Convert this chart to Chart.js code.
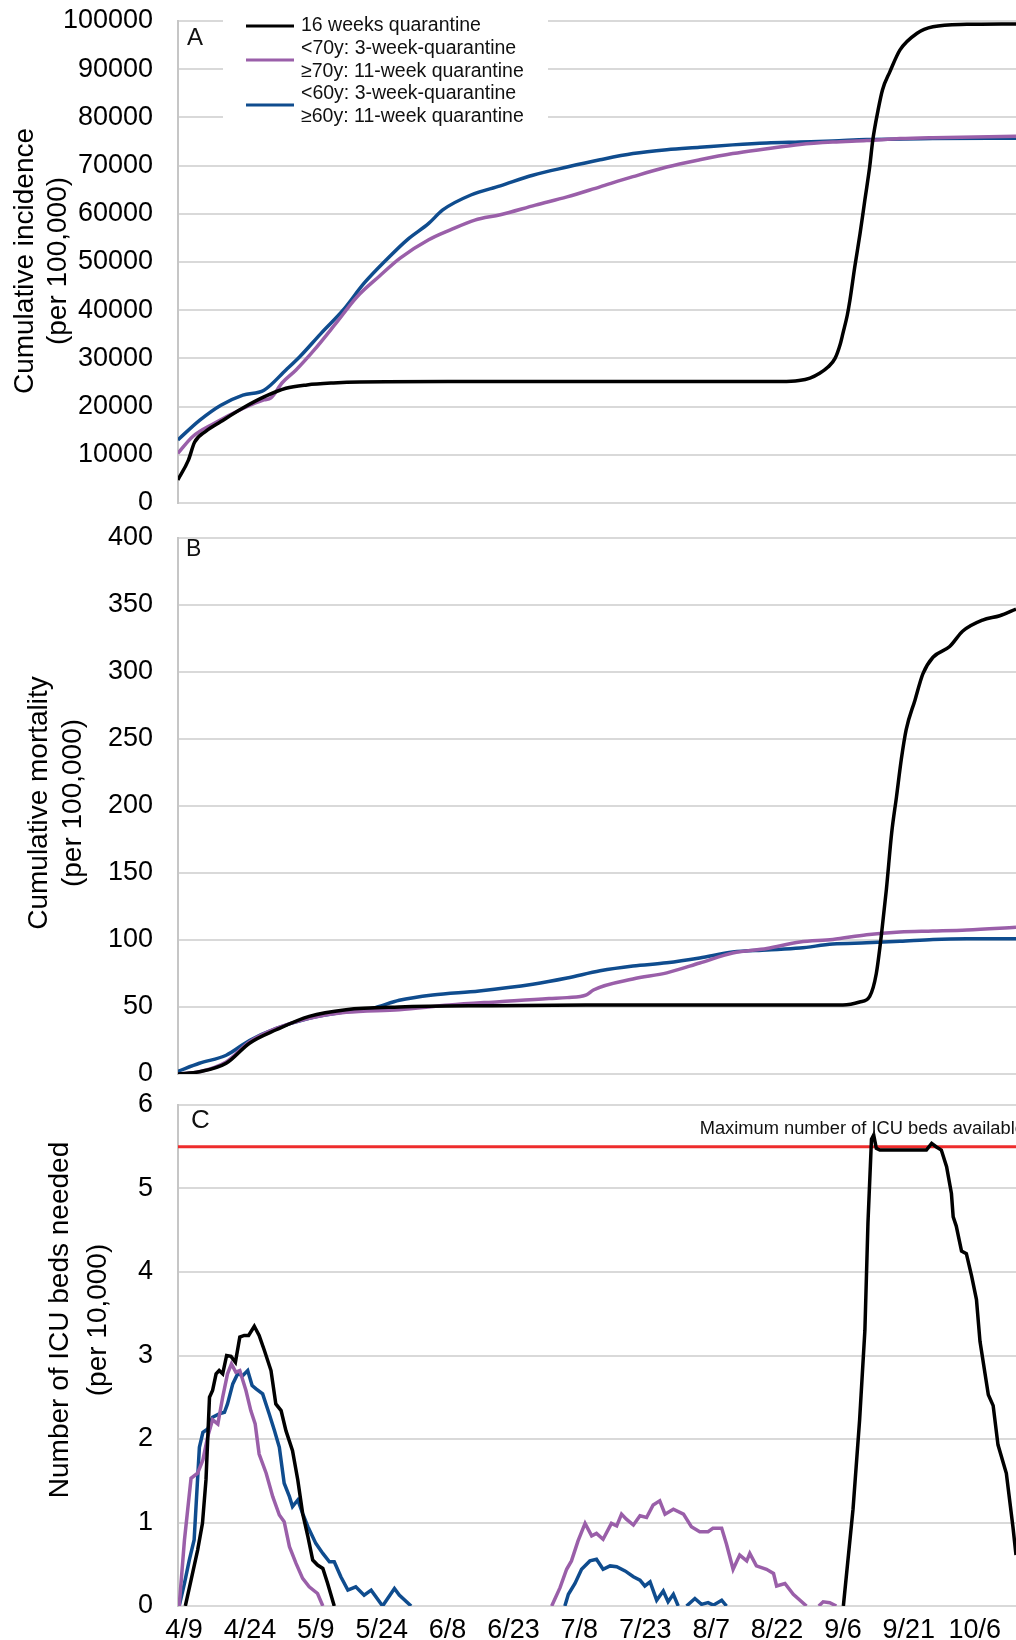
<!DOCTYPE html>
<html>
<head>
<meta charset="utf-8">
<script src="https://cdn.jsdelivr.net/npm/chart.js@4.4.1/dist/chart.umd.min.js"></script>
<style>
  html, body { margin: 0; padding: 0; background: #fff; }
  #page { position: relative; width: 1016px; height: 1640px; overflow: hidden; background: #fff; }
  canvas { position: absolute; left: 0; }
  #chartA { top: 0; }
  #chartB { top: 515px; }
  #chartC { top: 1080px; }
</style>
</head>
<body>
<div id="page">
  <canvas id="chartA" width="1016" height="520"></canvas>
  <canvas id="chartB" width="1016" height="580"></canvas>
  <canvas id="chartC" width="1016" height="560"></canvas>
</div>
<script>
// x values are days counted from 4/9
var dateTicks = ['4/9', '4/24', '5/9', '5/24', '6/8', '6/23', '7/8', '7/23', '8/7', '8/22', '9/6', '9/21', '10/6'];
var seriesNames = [
    ['16 weeks quarantine'],
    ['<70y: 3-week-quarantine', '\u226570y: 11-week quarantine'],
    ['<60y: 3-week-quarantine', '\u226560y: 11-week quarantine']
];
var icuCapacity = 5.5;
var icuCapacityLabel = 'Maximum number of ICU beds available';

// A: cumulative incidence (per 100,000)
var incidence16w = [[-1.4, 4800], [1, 8900], [2.4, 12600], [5, 14900], [8.4, 16900], [13.4, 19700], [18.2, 22000],
    [23.2, 23800], [28, 24500], [34, 24900], [40, 25100], [60, 25200], [100, 25200], [136, 25200], [140, 25400],
    [142.5, 25900], [144.7, 26900], [146.6, 28200], [148.2, 30000], [149.4, 33000], [150, 35200], [151, 39000],
    [151.6, 42100], [152.7, 49000], [153.9, 55900], [155, 62900], [156.1, 69800], [156.8, 75300], [158, 81500],
    [159, 85700], [160.7, 89500], [163, 94000], [166.8, 97400], [170.5, 98800], [178.2, 99300], [189.4, 99400]];
var incidence70 = [[-1.4, 10300], [2, 13800], [6.8, 16500], [13.4, 19600], [18.2, 21400], [19.8, 21800], [22.3, 24900],
    [25.5, 27600], [29.6, 31700], [34.6, 37300], [39.4, 42800], [44.4, 47000], [49.2, 50800], [55.7, 54600],
    [60.5, 56600], [66.2, 58700], [72, 59800], [80, 61800], [87.2, 63500], [94.7, 65600], [102.2, 67700],
    [109.9, 69700], [117.4, 71200], [124.9, 72500], [132.7, 73500], [140.2, 74400], [147.7, 74900], [155.4, 75200],
    [163, 75600], [170.5, 75800], [189.4, 76100]];
var incidence60 = [[-1.4, 13100], [3.6, 17200], [8.4, 20300], [13.4, 22400], [18.2, 23400], [23.2, 27600], [26.4, 30400],
    [31.2, 35200], [36.2, 40000], [41, 45600], [46, 50400], [50.8, 54600], [55.7, 58000], [58.9, 60800], [65.3, 63900],
    [72, 65800], [79.4, 68000], [87.2, 69700], [94.7, 71200], [102.2, 72500], [109.9, 73300], [117.4, 73800],
    [124.9, 74300], [132.7, 74700], [140.2, 74900], [147.7, 75100], [155.4, 75400], [170.5, 75600], [189.4, 75700]];

// B: cumulative mortality (per 100,000)
var mortality16w = [[-1.4, 0], [3.5, 1.7], [9.6, 8], [14.9, 23], [21, 33], [28.5, 43], [36.9, 48], [49, 50], [70, 51],
    [91.5, 51.5], [120, 51.5], [150, 51.5], [153.8, 53.7], [156.1, 58], [157.6, 75], [158.8, 105], [159.9, 138],
    [161.1, 180], [162.2, 207], [163.3, 235], [164.4, 257], [166.4, 279], [168.2, 298.6], [170.5, 311], [174.3, 319],
    [177.3, 330.6], [181.8, 338.8], [185.7, 342], [189.4, 347]];
var mortality70 = [[-1.4, 0], [3.5, 1.7], [9.6, 9], [14.9, 24], [21, 34], [28.5, 41.5], [36.9, 46], [49, 48], [60.4, 51.5],
    [71.8, 54], [83.1, 56.4], [87.2, 57], [91.6, 59], [93.2, 62.7], [102.2, 70.9], [109.9, 75.5], [117.4, 82.8],
    [124.9, 90.3], [132.7, 93.7], [140.2, 98.5], [147.7, 100.4], [155.4, 104], [163, 106], [170.5, 106.7],
    [178.2, 107.5], [189.4, 109.5]];
var mortality60 = [[-1.4, 2], [3.5, 8], [9.6, 14], [14.9, 25], [21, 34], [28.5, 41.5], [36.9, 46.5], [42.9, 49], [49, 55],
    [56.6, 59], [67.2, 62], [79.4, 67], [87.2, 71.6], [94.7, 77], [102.2, 80.6], [109.9, 83], [117.4, 86.6],
    [124.9, 91], [132.7, 92.5], [140.2, 94], [147.7, 97], [155.4, 97.9], [163, 99], [170.5, 100.4], [178.2, 100.9],
    [189.4, 100.9]];

// C: ICU beds needed (per 10,000), one array per wave
var icu16wSpring = [[0.3, 0], [1.6, 0.31], [3.1, 0.67], [4.2, 0.99], [5, 1.51], [5.8, 2.5], [6.5, 2.58], [7.3, 2.78],
    [8, 2.82], [8.8, 2.78], [9.7, 3.0], [10.7, 2.99], [11.7, 2.92], [12.7, 3.22], [13.7, 3.24], [14.7, 3.24],
    [16, 3.35], [17.1, 3.24], [18.3, 3.06], [19.8, 2.82], [20.9, 2.42], [22.1, 2.34], [23.2, 2.1], [24.7, 1.86],
    [25.9, 1.51], [27, 1.11], [28.2, 0.83], [29.3, 0.55], [30.4, 0.49], [31.6, 0.45], [32.7, 0.27], [34.2, 0]];
var icu16wAutumn = [[150.1, 0], [152.3, 1.16], [153.8, 2.23], [155, 3.3], [155.7, 4.59], [156.5, 5.59], [157, 5.64],
    [157.6, 5.48], [158.4, 5.46], [163, 5.46], [169, 5.46], [170.2, 5.54], [171.2, 5.5], [172.4, 5.46],
    [173.6, 5.26], [174.7, 4.94], [175.1, 4.66], [175.8, 4.55], [177, 4.25], [178.1, 4.22], [179.3, 3.95],
    [180.4, 3.67], [181.2, 3.17], [183.1, 2.53], [184.2, 2.4], [185.3, 1.93], [187.2, 1.59], [188.7, 0.95],
    [189.4, 0.61]];
var icu70Spring = [[-1.1, 0], [0.1, 0.79], [1.6, 1.53], [3.1, 1.59], [4.3, 1.75], [5.4, 2.03], [6.5, 2.23], [7.7, 2.18],
    [8.8, 2.5], [9.9, 2.78], [10.8, 2.9], [11.8, 2.8], [12.7, 2.82], [14.1, 2.58], [15.2, 2.34], [16.2, 2.18],
    [17.1, 1.82], [18.7, 1.59], [20.2, 1.31], [21.7, 1.09], [22.8, 1.01], [24, 0.71], [25.5, 0.51], [27, 0.33],
    [28.5, 0.23], [30.4, 0.15], [31.6, 0]];
var icu70Summer = [[83.7, 0], [85.6, 0.22], [87.1, 0.44], [88.2, 0.54], [89.7, 0.78], [91.3, 0.99], [92.8, 0.84],
    [93.9, 0.87], [95.4, 0.8], [97.3, 0.99], [98.5, 0.96], [99.6, 1.1], [100.7, 1.04], [102.3, 0.97], [103.8, 1.08],
    [105.3, 1.06], [106.8, 1.21], [108.3, 1.26], [109.5, 1.1], [111.4, 1.16], [113.7, 1.1], [115.5, 0.95],
    [117.4, 0.89], [119.3, 0.89], [120.4, 0.93], [122.4, 0.93], [123.5, 0.74], [125, 0.44], [126.5, 0.61],
    [128.1, 0.54], [128.8, 0.63], [130.3, 0.48], [132.6, 0.44], [134.2, 0.39], [134.9, 0.24], [136.8, 0.27],
    [138.7, 0.14], [141.7, 0]];
var icu70Late = [[144.5, 0], [145.5, 0.05], [147, 0.04], [148.5, 0]];
var icu60Spring = [[-1.1, 0], [0.1, 0.27], [1.2, 0.55], [2.3, 0.79], [3.5, 1.9], [4.3, 2.08], [5.4, 2.12], [6.5, 2.26],
    [8, 2.3], [9.2, 2.32], [9.9, 2.42], [11.1, 2.66], [12.2, 2.78], [13.4, 2.76], [14.5, 2.82], [15.5, 2.64],
    [16.4, 2.6], [17.9, 2.54], [19.4, 2.3], [20.6, 2.1], [21.7, 1.9], [22.8, 1.47], [24, 1.31], [24.7, 1.19],
    [25.9, 1.27], [27, 1.11], [28.2, 0.95], [30, 0.75], [31.6, 0.63], [33.1, 0.53], [34.2, 0.53], [35.7, 0.35],
    [37.3, 0.19], [39.1, 0.23], [41, 0.13], [42.6, 0.19], [45.2, 0], [47.9, 0.21], [49, 0.13], [51.7, 0]];
var icu60Summer = [[86.7, 0], [87.5, 0.14], [89, 0.27], [90.5, 0.44], [92.4, 0.54], [93.9, 0.56], [95.4, 0.44],
    [97, 0.48], [98.5, 0.47], [100.4, 0.42], [102.3, 0.35], [103.8, 0.31], [104.9, 0.24], [106.1, 0.29],
    [107.6, 0.07], [109.1, 0.18], [110.2, 0.05], [111.4, 0.14], [112.5, 0]];
var icu60Late = [[114.4, 0], [116.3, 0.09], [117.8, 0.02], [119.3, 0.04], [120.5, 0.01], [122.4, 0.07], [123.5, 0]];

var FONT = '"Liberation Sans", Arial, Helvetica, sans-serif';
var BLACK = '#000000';
var PURPLE = '#9a5fa9';
var BLUE = '#0f4c8e';
var RED = '#ee2c2c';
var xMin = -1.37;
var xMax = 189.4;

function toPoints(arr) {
    return arr.map(function (p) { return { x: p[0], y: p[1] }; });
}

function series(arr, color, smooth) {
    return {
        data: toPoints(arr),
        borderColor: color,
        backgroundColor: color,
        borderWidth: 3.5,
        pointRadius: 0,
        fill: false,
        tension: 0,
        cubicInterpolationMode: smooth ? 'monotone' : 'default'
    };
}

function xAxis(show) {
    return {
        type: 'linear',
        min: xMin,
        max: xMax,
        display: show,
        grid: { display: false, drawTicks: false },
        border: { display: false },
        ticks: {
            stepSize: 15,
            includeBounds: false,
            maxTicksLimit: 20,
            autoSkip: false,
            maxRotation: 0,
            padding: 8,
            color: '#000',
            font: { family: FONT, size: 27 },
            callback: function (v) {
                var i = Math.round(v / 15);
                return dateTicks[i] !== undefined ? dateTicks[i] : '';
            }
        },
        afterFit: function (s) { if (show) s.height = 34; }
    };
}

function yAxis(max, step) {
    return {
        min: 0,
        max: max,
        ticks: {
            stepSize: step,
            padding: 0,
            color: '#000',
            font: { family: FONT, size: 27 },
            callback: function (v) { return String(v); }
        },
        // invisible tick marks keep the labels 25px off the axis line
        grid: { color: '#d9d9d9', lineWidth: 2, drawTicks: true, tickLength: 25, tickColor: 'rgba(0,0,0,0)' },
        border: { display: true, color: '#c6c6c6', width: 2 },
        afterFit: function (s) { s.width = 178; }
    };
}

// rotated y titles and the panel letter
var panelText = {
    id: 'panelText',
    afterDraw: function (chart, args, o) {
        var ctx = chart.ctx;
        var area = chart.chartArea;
        ctx.save();
        ctx.fillStyle = '#000';
        ctx.font = o.titleSize + 'px ' + FONT;
        ctx.textAlign = 'center';
        ctx.textBaseline = 'middle';
        ctx.translate(o.titleX, o.titleY);
        ctx.rotate(-Math.PI / 2);
        o.title.forEach(function (t, i) { ctx.fillText(t, 0, i * o.titleGap); });
        ctx.restore();

        ctx.save();
        ctx.fillStyle = '#111';
        ctx.font = o.letterSize + 'px ' + FONT;
        ctx.textAlign = 'left';
        ctx.textBaseline = 'middle';
        ctx.fillText(o.letter, area.left + o.letterDx, area.top + o.letterDy);
        ctx.restore();
    }
};

var boxLegend = {
    id: 'boxLegend',
    afterDraw: function (chart, args, o) {
        var ctx = chart.ctx;
        ctx.save();
        ctx.fillStyle = '#fff';
        ctx.fillRect(o.left, o.top, o.width, o.height);
        ctx.font = o.size + 'px ' + FONT;
        ctx.textAlign = 'left';
        ctx.textBaseline = 'middle';
        var y = o.firstLine;
        seriesNames.forEach(function (lines, k) {
            var ds = chart.data.datasets[k];
            var mid = y + (lines.length - 1) * o.lineGap / 2;
            ctx.strokeStyle = ds.borderColor;
            ctx.lineWidth = 3;
            ctx.beginPath();
            ctx.moveTo(o.swatchX, mid);
            ctx.lineTo(o.swatchX + o.swatchW, mid);
            ctx.stroke();
            ctx.fillStyle = '#111';
            lines.forEach(function (t, i) { ctx.fillText(t, o.textX, y + i * o.lineGap); });
            y += lines.length * o.lineGap;
        });
        ctx.restore();
    }
};

var capacityNote = {
    id: 'capacityNote',
    afterDraw: function (chart, args, o) {
        var ctx = chart.ctx;
        var x = chart.scales.x.getPixelForValue(o.atDay);
        var y = chart.scales.y.getPixelForValue(icuCapacity);
        ctx.save();
        ctx.fillStyle = '#111';
        ctx.font = o.size + 'px ' + FONT;
        ctx.textAlign = 'left';
        ctx.textBaseline = 'alphabetic';
        ctx.fillText(icuCapacityLabel, x, y - o.lift);
        ctx.restore();
    }
};

function baseOptions(yMax, yStep, showX, pad, textOpts) {
    return {
        responsive: false,
        animation: false,
        events: [],
        layout: { padding: pad },
        scales: { x: xAxis(showX), y: yAxis(yMax, yStep) },
        plugins: {
            legend: { display: false },
            tooltip: { enabled: false },
            panelText: textOpts
        }
    };
}

document.addEventListener('DOMContentLoaded', function () {
    // Panel A
    var optsA = baseOptions(100000, 10000, false, { top: 21, bottom: 17, left: 0, right: 0 },
        { title: ['Cumulative incidence', '(per 100,000)'], titleX: 25, titleY: 261, titleGap: 33, titleSize: 28,
          letter: 'A', letterSize: 24, letterDx: 9, letterDy: 17 });
    optsA.plugins.boxLegend = { left: 223, top: 12, width: 325, height: 121, size: 19.5, firstLine: 26, lineGap: 22.6,
        swatchX: 246, swatchW: 48, textX: 301 };
    new Chart(document.getElementById('chartA'), {
        type: 'line',
        data: { datasets: [
            series(incidence16w, BLACK, true),
            series(incidence70, PURPLE, true),
            series(incidence60, BLUE, true)
        ] },
        options: optsA,
        plugins: [panelText, boxLegend]
    });

    // Panel B
    new Chart(document.getElementById('chartB'), {
        type: 'line',
        data: { datasets: [
            series(mortality16w, BLACK, true),
            series(mortality70, PURPLE, true),
            series(mortality60, BLUE, true)
        ] },
        options: baseOptions(400, 50, false, { top: 23, bottom: 21, left: 0, right: 0 },
            { title: ['Cumulative mortality', '(per 100,000)'], titleX: 39, titleY: 288, titleGap: 34, titleSize: 28,
              letter: 'B', letterSize: 23, letterDx: 8, letterDy: 12 }),
        plugins: [panelText]
    });

    // Panel C
    var capacityLine = series([[xMin, icuCapacity], [xMax, icuCapacity]], RED, false);
    capacityLine.borderWidth = 3;
    var optsC = baseOptions(6, 1, true, { top: 25, bottom: 0, left: 0, right: 0 },
        { title: ['Number of ICU beds needed', '(per 10,000)'], titleX: 60, titleY: 240, titleGap: 38, titleSize: 28,
          letter: 'C', letterSize: 26, letterDx: 13, letterDy: 16 });
    optsC.plugins.capacityNote = { atDay: 117.4, lift: 13, size: 18.3 };
    new Chart(document.getElementById('chartC'), {
        type: 'line',
        data: { datasets: [
            series(icu16wSpring, BLACK, false),
            series(icu16wAutumn, BLACK, false),
            series(icu70Spring, PURPLE, false),
            series(icu70Summer, PURPLE, false),
            series(icu70Late, PURPLE, false),
            series(icu60Spring, BLUE, false),
            series(icu60Summer, BLUE, false),
            series(icu60Late, BLUE, false),
            capacityLine
        ] },
        options: optsC,
        plugins: [panelText, capacityNote]
    });
});
</script>
</body>
</html>
